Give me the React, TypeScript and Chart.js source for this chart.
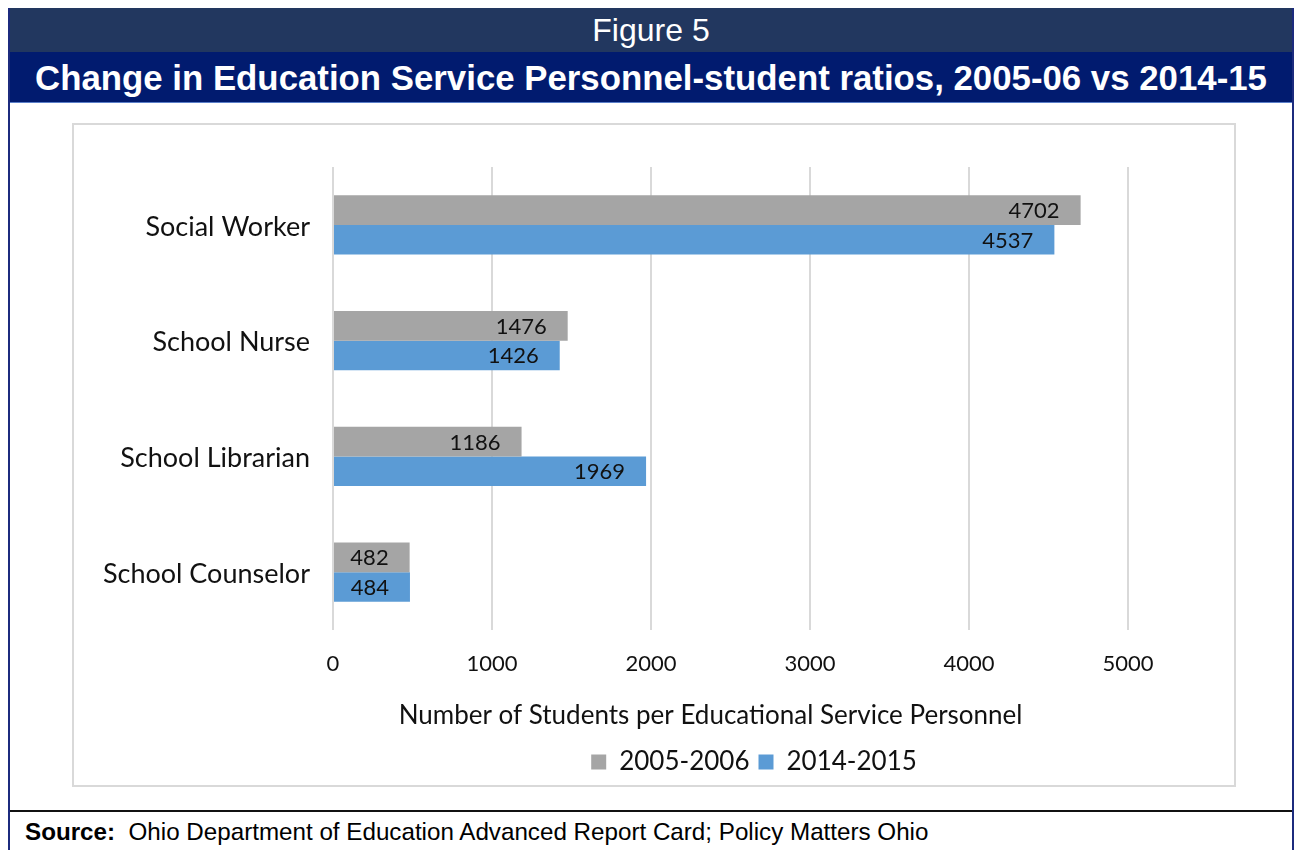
import React, { useEffect, useRef } from "react";
import { Chart, registerables } from "chart.js";

Chart.register(...registerables);

const categories = ["Social Worker", "School Nurse", "School Librarian", "School Counselor"];
const series2005 = [4702, 1476, 1186, 482];
const series2014 = [4537, 1426, 1969, 484];
const seriesLabels = ["2005-2006", "2014-2015"];
const xTicks = [0, 1000, 2000, 3000, 4000, 5000];
const xTitle = "Number of Students per Educational Service Personnel      ";
const FONT = "Lato, 'Open Sans', sans-serif";

const dataLabelPlugin = {
  id: "barValueLabels",
  afterDatasetsDraw(chart: any) {
    const ctx = chart.ctx;
    ctx.save();
    ctx.font = `22px ${FONT}`;
    ctx.fillStyle = "#111";
    ctx.textAlign = "right";
    ctx.textBaseline = "middle";
    chart.data.datasets.forEach((ds: any, di: number) => {
      const meta = chart.getDatasetMeta(di);
      meta.data.forEach((el: any, i: number) => {
        ctx.fillText(String(ds.data[i]), el.x - 21, el.y + 1);
      });
    });
    ctx.restore();
  },
};

// centre the legend where the original places it (slightly right of the plot centre)
const legendShiftPlugin = {
  id: "legendShift",
  afterLayout(chart: any) {
    const lg = chart.legend;
    if (!lg) return;
    const target = 680;
    const d = target - (lg.left + lg.right) / 2;
    lg.left += d;
    lg.right += d;
  },
};

function ChartCanvas() {
  const ref = useRef<HTMLCanvasElement | null>(null);
  useEffect(() => {
    if (!ref.current) return;
    const chart = new Chart(ref.current, {
      type: "bar",
      data: {
        labels: categories,
        datasets: [
          {
            label: seriesLabels[0],
            data: series2005,
            backgroundColor: "#a5a5a5",
            barPercentage: 1,
            categoryPercentage: 0.51,
          },
          {
            label: seriesLabels[1],
            data: series2014,
            backgroundColor: "#5b9bd5",
            barPercentage: 1,
            categoryPercentage: 0.51,
          },
        ],
      },
      options: {
        indexAxis: "y",
        responsive: false,
        animation: false,
        devicePixelRatio: 1,
        layout: { padding: { top: 42, right: 106, left: 0, bottom: 0 } },
        plugins: {
          legend: {
            position: "bottom",
            labels: {
              boxWidth: 15,
              boxHeight: 15,
              padding: 9,
              color: "#111",
              font: { family: FONT, size: 26 },
            },
          },
          tooltip: { enabled: false },
        },
        scales: {
          x: {
            min: 0,
            max: 5000,
            afterBuildTicks(scale: any) {
              scale.ticks = xTicks.map((v) => ({ value: v }));
            },
            afterFit(scale: any) {
              scale.height = 110;
            },
            grid: { color: "#d9d9d9", lineWidth: 2, drawTicks: false },
            border: { display: false },
            ticks: {
              padding: 21,
              color: "#111",
              font: { family: FONT, size: 22 },
              callback: (v: any) => String(v),
            },
            title: {
              display: true,
              text: xTitle,
              color: "#111",
              font: { family: FONT, size: 26 },
              padding: { top: 0, bottom: 9 },
            },
          },
          y: {
            afterFit(scale: any) {
              scale.width = 259;
            },
            grid: { display: false, drawTicks: false },
            border: { display: false },
            ticks: {
              padding: 23,
              labelOffset: 2,
              color: "#111",
              font: { family: FONT, size: 27 },
            },
          },
        },
      },
      plugins: [dataLabelPlugin, legendShiftPlugin],
    } as any);
    return () => chart.destroy();
  }, []);
  return <canvas ref={ref} width={1160} height={660} style={{ display: "block" }} />;
}

export default function App() {
  return (
    <div
      style={{
        width: 1282,
        marginTop: -1,
        borderLeft: "2px solid #1c2b7e",
        borderRight: "2px solid #1c2b7e",
        fontFamily: "'Liberation Sans', Arial, sans-serif",
      }}
    >
      <div
        style={{
          height: 45,
          background: "#22375f",
          color: "#fff",
          fontSize: 32,
          textAlign: "center",
          lineHeight: "46px",
        }}
      >
        Figure 5
      </div>
      <div
        style={{
          height: 50,
          background: "#011b6f",
          borderBottom: "1px solid #5b7fc9",
          color: "#fff",
          fontWeight: "bold",
          fontSize: 34.8,
          textAlign: "center",
          lineHeight: "52px",
          whiteSpace: "nowrap",
        }}
      >
        Change in Education Service Personnel-student ratios, 2005-06 vs 2014-15
      </div>
      <div style={{ height: 707, position: "relative", background: "#fff" }}>
        <div
          style={{
            position: "absolute",
            left: 62,
            top: 20,
            width: 1160,
            height: 660,
            border: "2px solid #d9d9d9",
          }}
        >
          <ChartCanvas />
        </div>
      </div>
      <div
        style={{
          borderTop: "2px solid #111",
          height: 40,
          overflow: "hidden",
          paddingLeft: 15,
          fontSize: 24.2,
          lineHeight: "40px",
          color: "#000",
          whiteSpace: "pre",
        }}
      >
        <b>Source:</b>{"  Ohio Department of Education Advanced Report Card; Policy Matters Ohio"}
      </div>
    </div>
  );
}
